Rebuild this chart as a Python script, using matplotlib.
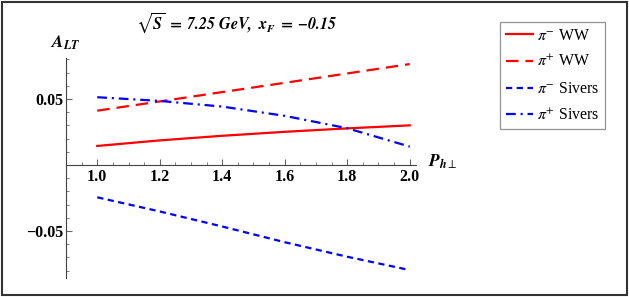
import matplotlib
matplotlib.use("Agg")
import matplotlib.pyplot as plt
from matplotlib.patches import Rectangle
from matplotlib.ticker import MultipleLocator, FixedLocator, FuncFormatter
import numpy as np

plt.rcParams['mathtext.fontset'] = 'stix'
plt.rcParams['font.family'] = ['Liberation Serif', 'DejaVu Serif']
plt.rcParams['lines.scale_dashes'] = False

# Data
p_h = [1.0, 1.2, 1.4, 1.6, 1.8, 2.0]
pim_ww = [0.0144, 0.0186, 0.0221, 0.0251, 0.0277, 0.0300]
pip_ww = [0.0411, 0.0481, 0.0552, 0.0622, 0.0693, 0.0764]
pim_sivers = [-0.0245, -0.0352, -0.0466, -0.0585, -0.0695, -0.0796]
pip_sivers = [0.0513, 0.0485, 0.0442, 0.0372, 0.0278, 0.0139]

labels = [r"$\pi^{-}$ WW", r"$\pi^{+}$ WW", r"$\pi^{-}$ Sivers", r"$\pi^{+}$ Sivers"]
x_ticks = [1.0, 1.2, 1.4, 1.6, 1.8, 2.0]
y_ticks = [-0.05, 0.05]

W, H = 629, 297
fig = plt.figure(figsize=(W / 100, H / 100), dpi=100)
ax = fig.add_axes([66 / W, 1 - 278 / H, 350 / W, 220 / H])
ax.set_xlim(0.9, 2.02)
ax.set_ylim(-0.0856, 0.081)

lw = 1.6
red = '#ff0000'
blue = '#0000ff'
l1, = ax.plot(p_h, pim_ww, color=red, lw=lw, label=labels[0])
l2, = ax.plot(p_h, pip_ww, color=red, lw=lw, dashes=(9, 5), label=labels[1])
l3, = ax.plot(p_h, pim_sivers, color=blue, lw=lw, dashes=(4.5, 3.2), label=labels[2])
l4, = ax.plot(p_h, pip_sivers, color=blue, lw=lw, dashes=(7, 3.5, 1.5, 3.5), label=labels[3])

# Mathematica-like axes
for s in ['top', 'right']:
    ax.spines[s].set_visible(False)
ax.spines['bottom'].set_position(('data', 0))
ax.spines['bottom'].set_color('#444444')
ax.spines['left'].set_color('#444444')
ax.spines['bottom'].set_linewidth(0.8)
ax.spines['left'].set_linewidth(0.8)

ax.xaxis.set_major_locator(FixedLocator(x_ticks))
ax.xaxis.set_minor_locator(MultipleLocator(0.05))
ax.yaxis.set_major_locator(FixedLocator(y_ticks))
ax.yaxis.set_minor_locator(MultipleLocator(0.01))
ax.xaxis.set_major_formatter(FuncFormatter(lambda v, p: f"{v:.1f}"))
ax.yaxis.set_major_formatter(FuncFormatter(lambda v, p: f"{v:.2f}".replace('-', '\u2212')))

ax.tick_params(axis='x', which='major', direction='in', length=4, width=0.8, color='#666666', pad=3)
ax.tick_params(axis='x', which='minor', direction='in', length=2.2, width=0.6, color='#666666')
ax.tick_params(axis='y', which='major', direction='in', length=4, width=0.8, color='#666666', pad=2)
ax.tick_params(axis='y', which='minor', direction='in', length=2.2, width=0.6, color='#666666')
for lab in ax.get_xticklabels() + ax.get_yticklabels():
    lab.set_fontweight('bold')
    lab.set_fontsize(11.5)

# Axis labels
fig.text(65 / W, 1 - 43 / H, r"$\mathbfit{A}_{\mathbfit{LT}}$", ha='center', va='center', fontsize=12.5)
fig.text(443 / W, 1 - 162 / H, r"$\mathbfit{P}_{\mathbfit{h}\perp}$", ha='center', va='center', fontsize=12.5)

# Title
fig.text(237 / W, 1 - 24 / H, r"$\sqrt{\mathbfit{S}}\;\mathbf{=}\;\mathbfit{7.25\ GeV,\ x_F}\;\mathbf{=}\;\mathbfit{-0.15}$",
         ha='center', va='center', fontsize=11.5)

# Legend
leg = fig.legend(handles=[l1, l2, l3, l4], loc='upper left',
                 bbox_to_anchor=(500 / W, 1 - 22 / H), bbox_transform=fig.transFigure,
                 frameon=True, fancybox=False, edgecolor='#777777', fontsize=11.4,
                 handlelength=1.75, handletextpad=0.25, labelspacing=0.68, borderpad=0.35,
                 borderaxespad=0)
leg.get_frame().set_linewidth(0.9)

# Outer frame
fig.patches.append(Rectangle((2 / W, 2 / H), 1 - 4 / W, 1 - 4 / H, transform=fig.transFigure,
                             fill=False, edgecolor='#333333', linewidth=1.5))

fig.savefig("out.png", dpi=100)
